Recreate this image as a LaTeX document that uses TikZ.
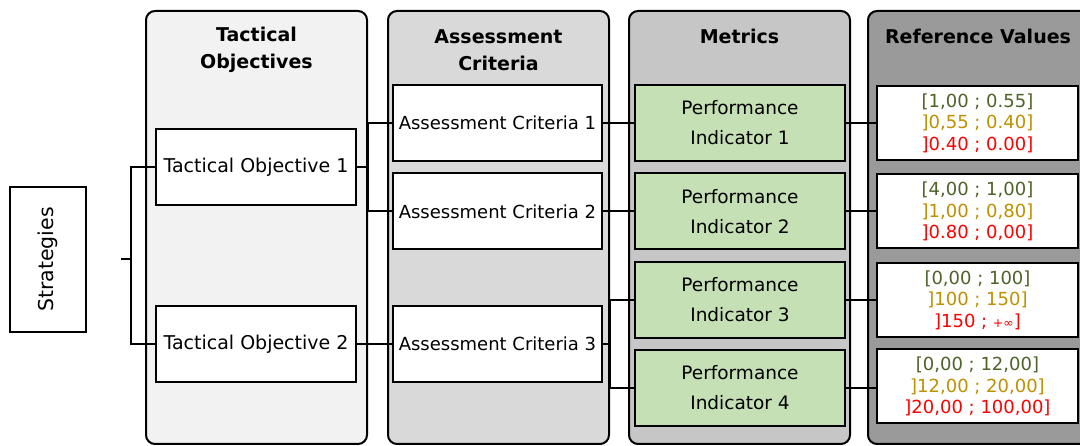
\documentclass[tikz,border=0pt]{standalone}
\usepackage{fontspec}
\setmainfont{DejaVu Sans}
\definecolor{colA}{HTML}{F2F2F2}
\definecolor{colB}{HTML}{D9D9D9}
\definecolor{colC}{HTML}{C6C6C6}
\definecolor{colD}{HTML}{9A9A9A}
\definecolor{pifill}{HTML}{C5E0B4}
\definecolor{vgreen}{HTML}{4F6228}
\definecolor{vgold}{HTML}{BF9000}
\definecolor{vred}{HTML}{FF0000}
\begin{document}
\begin{tikzpicture}[x=1pt,y=-1pt,line width=2pt,
  col/.style={draw, rounded corners=9pt, line width=2pt},
  hdr/.style={font=\fontsize{19}{27}\selectfont\bfseries, align=center, inner sep=0pt},
  box/.style={draw, fill=white, line width=2pt, minimum height=76pt, inner sep=0pt, align=center, font=\fontsize{18.5}{30}\selectfont},
  tobox/.style={box, minimum width=200pt, font=\fontsize{19}{30}\selectfont},
  acbox/.style={box, minimum width=209pt, font=\fontsize{18}{30}\selectfont},
  pibox/.style={box, minimum width=210pt, fill=pifill},
  rvbox/.style={box, minimum width=201pt, minimum height=74pt, font=\fontsize{18}{21.5}\selectfont},
  link/.style={draw, line width=2pt}
]
\useasboundingbox (0,0) rectangle (1080,446);
\clip (0,0) rectangle (1080,446);
% columns
\draw[col, fill=colA] (146,11) rectangle (367,444);
\draw[col, fill=colB] (388,11) rectangle (609,444);
\draw[col, fill=colC] (629,11) rectangle (850,444);
\draw[col, fill=colD] (868,11) rectangle (1110,444);
% headers
\node[hdr] (hTO) at (256.5,50) {Tactical\\Objectives};
\node[hdr] (hAC) at (498.5,50) {Assessment\\Criteria};
\node[hdr] (hM) at (739.5,36) {Metrics};
\node[hdr] (hRV) at (978,36) {Reference Values};
% strategies
\node[draw, line width=2pt, rotate=90, minimum width=145pt, minimum height=76pt, inner sep=0pt, font=\fontsize{20.5}{24}\selectfont] (strat) at (48,259.5) {Strategies};
% tactical objectives
\node[tobox] (to1) at (256,167) {Tactical Objective 1};
\node[tobox] (to2) at (256,344) {Tactical Objective 2};
% assessment criteria
\node[acbox] (ac1) at (497.5,123) {Assessment Criteria 1};
\node[acbox] (ac2) at (497.5,211.5) {Assessment Criteria 2};
\node[acbox] (ac3) at (497.5,344) {Assessment Criteria 3};
% performance indicators
\node[pibox] (pi1) at (740,123) {Performance\\Indicator 1};
\node[pibox] (pi2) at (740,211.5) {Performance\\Indicator 2};
\node[pibox] (pi3) at (740,300) {Performance\\Indicator 3};
\node[pibox] (pi4) at (740,388) {Performance\\Indicator 4};
% reference values
\node[rvbox] (rv1) at (977.5,123) {\textcolor{vgreen}{[1,00 ; 0.55]}\\\textcolor{vgold}{]0,55 ; 0.40]}\\\textcolor{vred}{]0.40 ; 0.00]}};
\node[rvbox] (rv2) at (977.5,211.5) {\textcolor{vgreen}{[4,00 ; 1,00]}\\\textcolor{vgold}{]1,00 ; 0,80]}\\\textcolor{vred}{]0.80 ; 0,00]}};
\node[rvbox] (rv3) at (977.5,300) {\textcolor{vgreen}{[0,00 ; 100]}\\\textcolor{vgold}{]100 ; 150]}\\\textcolor{vred}{]150 ; {\fontsize{12.5}{12}\selectfont +∞}]}};
\node[rvbox] (rv4) at (977.5,386.5) {\textcolor{vgreen}{[0,00 ; 12,00]}\\\textcolor{vgold}{]12,00 ; 20,00]}\\\textcolor{vred}{]20,00 ; 100,00]}};
% connectors
\coordinate (stub) at (121,259.5);
\coordinate (j0) at (131,259.5);
\draw[link] (stub) -- (j0);
\draw[link] (to1.west) -| (j0) |- (to2.west);
\coordinate (k1) at (368,167);
\draw[link] (to1.east) -- (k1);
\draw[link] (ac1.west) -| (k1) |- (ac2.west);
\draw[link] (to2.east) -- (ac3.west);
\draw[link] (ac1.east) -- (pi1.west);
\draw[link] (ac2.east) -- (pi2.west);
\coordinate (k2) at (610,344);
\draw[link] (ac3.east) -- (k2);
\draw[link] (pi3.west) -| (k2) |- (pi4.west);
\draw[link] (pi1.east) -- (pi1.east -| rv1.west);
\draw[link] (pi2.east) -- (pi2.east -| rv2.west);
\draw[link] (pi3.east) -- (pi3.east -| rv3.west);
\draw[link] (pi4.east) -- (pi4.east -| rv4.west);
\end{tikzpicture}
\end{document}
